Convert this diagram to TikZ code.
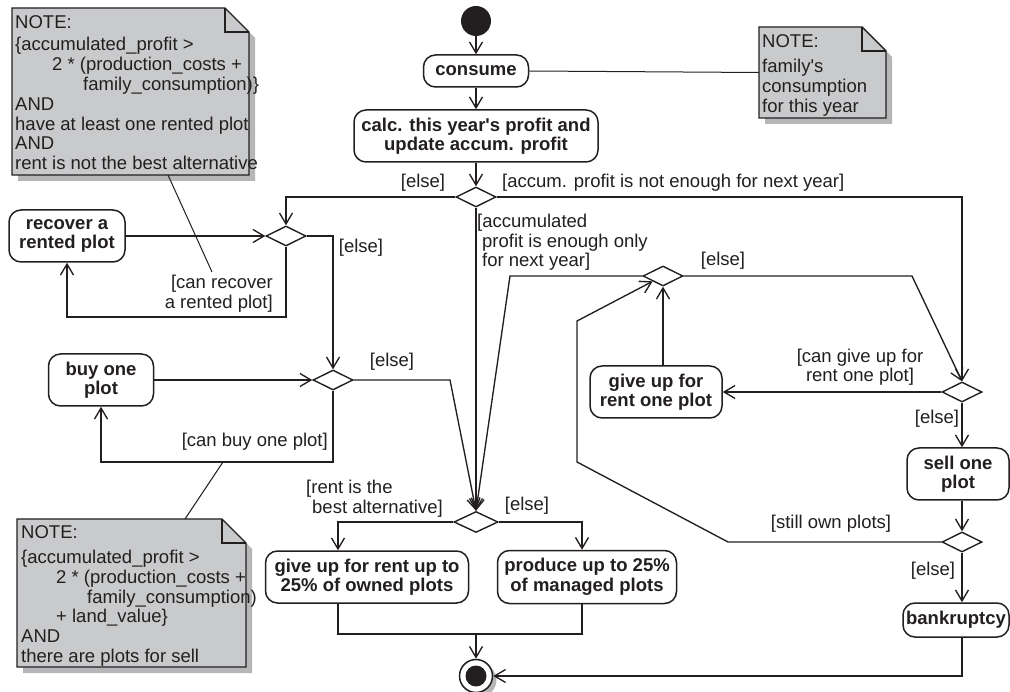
\documentclass[tikz,border=0pt]{standalone}
\usepackage{fontspec}
\setmainfont{Liberation Sans}
\usetikzlibrary{shapes.geometric,arrows.meta,calc}
\definecolor{notefill}{RGB}{201,202,204}
\definecolor{shadowc}{RGB}{182,182,184}
\definecolor{ink}{RGB}{35,31,32}
\tikzset{
  act/.style={draw=ink, line width=1.5pt, rounded corners=12pt, fill=white, align=center,
    font=\bfseries\fontsize{18.5}{19.5}\selectfont, inner sep=2pt, text=ink},
  dec/.style={draw=ink, line width=1.4pt, diamond, fill=white, minimum width=40pt,
    minimum height=20pt, inner sep=0pt},
  arr/.style={draw=ink, line width=1.35pt, -{Straight Barb[length=11pt,width=13pt]}},
  flow/.style={draw=ink, line width=1.35pt},
  guard/.style={font=\fontsize{18.5}{19.5}\selectfont, text=ink, inner sep=0pt},
  notearea/.style={draw=none, inner sep=0pt, outer sep=0pt, anchor=north west},
  notetext/.style={font=\fontsize{18.5}{19.8}\selectfont, align=left, inner sep=0pt,
    anchor=north west, text=ink},
  noteline/.style={draw=ink, line width=1pt},
}
\newcommand\umlnote[2]{%
  \fill[shadowc] ($(#1.north west)+(6,6)$) -- ($(#1.north east)+(6-#2,6)$)
    -- ($(#1.north east)+(6,6+#2)$) -- ($(#1.south east)+(6,6)$)
    -- ($(#1.south west)+(6,6)$) -- cycle;
  \filldraw[fill=notefill, draw=ink, line width=1.4pt] (#1.north west)
    -- ($(#1.north east)+(-#2,0)$) -- ($(#1.north east)+(0,#2)$)
    -- (#1.south east) -- (#1.south west) -- cycle;
  \draw[ink, line width=1.4pt] ($(#1.north east)+(-#2,0)$) -- ($(#1.north east)+(-#2,#2)$)
    -- ($(#1.north east)+(0,#2)$);
}
\begin{document}
\begin{tikzpicture}[x=1pt,y=-1pt]
\useasboundingbox (0,0) rectangle (1010,692);
\fill[white] (0,0) rectangle (1010,692);

% notes
\node[notearea, minimum width=237pt, minimum height=167pt] (n1) at (12,8) {};
\umlnote{n1}{24}
\node[notetext] (n1t) at (15,15) {NOTE:\\[3pt]
\{accumulated\_profit >\\
\hspace*{37pt}2 * (production\_costs +\\
\hspace*{68pt}family\_consumption)\}\\
AND\\
have at least one rented plot\\
AND\\
rent is not the best alternative};

\node[notearea, minimum width=229pt, minimum height=148pt] (n2) at (17,519) {};
\umlnote{n2}{24}
\node[notetext] (n2t) at (21,525.5) {NOTE:\\[5pt]
\{accumulated\_profit >\\
\hspace*{35pt}2 * (production\_costs +\\
\hspace*{66pt}family\_consumption)\\
\hspace*{35pt}+ land\_value\}\\
AND\\
there are plots for sell};

\node[notearea, minimum width=127pt, minimum height=91pt] (n3) at (759,27) {};
\umlnote{n3}{24}
\node[notetext] (n3t) at (762,34.5) {NOTE:\\[5pt]
family\textquotesingle s\\
consumption\\
for this year};

% activity nodes
\node[circle, fill=ink, minimum size=30pt, inner sep=0pt] (start) at (476,21) {};
\node[act, minimum width=105pt, minimum height=32pt] (consume) at (476,71) {consume};
\node[act, minimum width=244pt, minimum height=52pt] (calc) at (476,136) {calc. this year\textquotesingle s profit and\\update accum. profit};
\node[dec] (d1) at (476,197) {};
\node[dec] (d2) at (286,236) {};
\node[act, minimum width=116pt, minimum height=52pt] (recover) at (67,236) {recover a\\rented plot};
\node[dec] (d4) at (333,380) {};
\node[act, minimum width=105pt, minimum height=52pt] (buy) at (101,380) {buy one\\plot};
\node[dec] (d3) at (663,276) {};
\node[dec] (rd) at (962,392) {};
\node[act, minimum width=132pt, minimum height=52pt] (giveup) at (656,392) {give up for\\rent one plot};
\node[act, minimum width=102pt, minimum height=52pt] (sell) at (958,474) {sell one\\plot};
\node[dec] (d5) at (962,542) {};
\node[act, minimum width=106pt, minimum height=34pt] (bank) at (956,620) {bankruptcy};
\node[dec, minimum width=44pt, minimum height=21pt] (bd) at (476,522) {};
\node[act, minimum width=203pt, minimum height=52pt] (g25) at (367,577) {give up for rent up to\\25\% of owned plots};
\node[act, minimum width=179pt, minimum height=53pt] (prod) at (587,577) {produce up to 25\%\\of managed plots};
\fill[shadowc] (480,680) circle[radius=16.5pt];
\node[circle, draw=ink, line width=1.5pt, fill=white, minimum size=33pt, inner sep=0pt] (fin) at (476,676) {};
\fill[ink] (fin.center) circle[radius=10.5pt];

% note connectors
\draw[noteline] (consume.east) -- (n3.west);
\coordinate (n1end) at (212,272);
\draw[noteline] ([xshift=37.5pt]n1.south) -- (n1end);
\coordinate (n2end) at (223,462);
\draw[noteline] ([xshift=53.5pt]n2.north) -- (n2end);

% flows
\draw[arr] (start) -- (consume);
\draw[arr] (consume) -- (calc);
\draw[arr] (calc) -- (d1);
\draw[arr] (d1.west) -| (d2.north);
\draw[arr] (d1.east) -| (rd.north);
\draw[arr] (d1.south) -- (bd.north);
\draw[arr] (recover.east) -- (d2.west);
\coordinate (c2) at (286,317);
\draw[arr] (d2.south) -- (c2) -| (recover.south);
\draw[arr] (d2.east) -| (d4.north);
\draw[arr] (buy.east) -- (d4.west);
\coordinate (c4) at (333,462);
\draw[arr] (d4.south) -- (c4) -| (buy.south);
\coordinate (c4e) at (450,380);
\draw[arr] (d4.east) -- (c4e) -- (bd.north);
\coordinate (c3w) at (510,276);
\draw[arr] (d3.west) -- (c3w) -- (bd.north);
\coordinate (c3e) at (912,276);
\draw[arr] (d3.east) -- (c3e) -- (rd.north);
\draw[arr] (giveup.north -| d3.south) -- (d3.south);
\draw[arr] (rd.west) -- (giveup.east);
\draw[arr] (rd.south) -- (rd.south |- sell.north);
\draw[arr] (sell.south -| d5.north) -- (d5.north);
\draw[arr] (d5.south) -- (d5.south |- bank.north);
\coordinate (c5a) at (728,542);
\coordinate (c5b) at (577,462);
\coordinate (c5c) at (577,321);
\draw[arr] (d5.west) -- (c5a) -- (c5b) -- (c5c) -- (d3.south west);
\draw[arr] (d5.south |- bank.south) |- (fin.east);
\draw[arr] (bd.west) -| ([xshift=-29pt]g25.north);
\draw[arr] (bd.east) -| ([xshift=-5pt]prod.north);
\coordinate (mrg) at (476,634);
\draw[flow] ([xshift=-29pt]g25.south) |- (mrg);
\draw[flow] ([xshift=-5pt]prod.south) |- (mrg);
\draw[arr] (mrg) -- (fin.north);

% guards
\node[guard] (g1) at (423,183) {[else]};
\node[guard, anchor=west] (g2) at (502,183) {[accum. profit is not enough for next year]};
\node[guard, align=left, anchor=north west] (g3) at (477,214) {[accumulated\\\hspace*{5pt}profit is enough only\\\hspace*{5pt}for next year]};
\node[guard] (g4) at (723,261) {[else]};
\node[guard, align=center] (g5) at (860,367) {[can give up for\\rent one plot]};
\node[guard] (g6) at (937,419) {[else]};
\node[guard] (g7) at (831,524) {[still own plots]};
\node[guard] (g8) at (933,571) {[else]};
\node[guard, align=left, anchor=north west] (g9) at (306,480) {[rent is the\\\hspace*{6pt}best alternative]};
\node[guard] (g10) at (527,506) {[else]};
\node[guard, align=right, anchor=north east] (g11) at (273,275) {[can recover\\a rented plot]};
\node[guard] (g12) at (361,248) {[else]};
\node[guard, anchor=east] (g13) at (328,442) {[can buy one plot]};
\node[guard] (g14) at (392,362) {[else]};
\end{tikzpicture}
\end{document}
